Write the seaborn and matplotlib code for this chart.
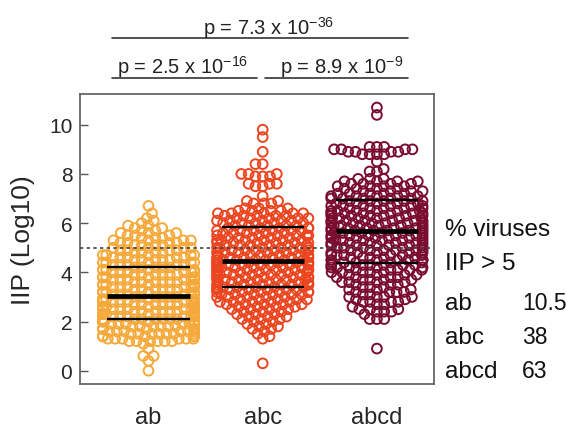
import numpy as np
import pandas as pd
import matplotlib
matplotlib.use("Agg")
import matplotlib.pyplot as plt
import seaborn as sns

# ---------------- data ----------------
groups = ["ab", "abc", "abcd"]
colors = ["#F5A93A", "#EB4520", "#7A0C30"]

# IIP values (log10) and how many viruses sit at each value
ab_levels = [0.0, 0.4, 0.6, 0.9, 1.1,
             1.2, 1.3, 1.4, 1.5, 1.6, 1.7, 1.8, 1.9,
             2.0, 2.1, 2.2, 2.3, 2.4, 2.5, 2.6, 2.7, 2.8, 2.9,
             3.0, 3.1, 3.2, 3.3, 3.4, 3.5, 3.6, 3.7, 3.8, 3.9,
             4.0, 4.1, 4.2, 4.3, 4.4, 4.5, 4.6, 4.7, 4.8, 4.9,
             5.0, 5.1, 5.2, 5.3, 5.4, 5.5, 5.6, 5.7, 5.8, 5.9,
             6.0, 6.1, 6.2, 6.4, 6.7]
ab_counts = [1, 1, 2, 1, 1,
             6, 6, 6, 7, 6, 7, 6, 7,
             7, 7, 7, 7, 7, 7, 7, 7, 7, 7,
             6, 6, 6, 6, 6, 6, 6, 6, 6, 6,
             6, 5, 5, 5, 5, 5, 5, 5, 4, 4,
             4, 4, 4, 4, 3, 3, 3, 2, 2, 2,
             1, 1, 1, 1, 1]

abc_levels = [0.3,
              1.3, 1.4, 1.5, 1.6, 1.7, 1.8, 1.9, 2.0, 2.1, 2.2, 2.3, 2.4, 2.5, 2.6, 2.7,
              2.8, 2.9, 3.0, 3.1, 3.2, 3.3, 3.4, 3.5, 3.6, 3.7, 3.8, 3.9,
              4.0, 4.1, 4.2, 4.3, 4.4, 4.5, 4.6, 4.7, 4.8, 4.9,
              5.0, 5.1, 5.2, 5.3, 5.4, 5.5, 5.6, 5.7, 5.8, 5.9,
              6.0, 6.1, 6.2, 6.3, 6.4, 6.5, 6.6,
              6.8, 6.9, 7.1, 7.5, 7.6, 7.9, 8.0, 8.4, 8.9, 9.5, 9.8]
abc_counts = [1,
              1, 1, 1, 1, 2, 2, 2, 2, 3, 3, 3, 3, 4, 4, 5,
              5, 5, 5, 6, 6, 6, 6, 7, 6, 7, 6, 7,
              6, 7, 6, 7, 6, 7, 6, 6, 6, 6,
              6, 6, 6, 6, 5, 6, 5, 6, 5, 5,
              5, 5, 5, 5, 5, 4, 3,
              3, 2, 1, 2, 3, 3, 3, 2, 1, 1, 1]

abcd_levels = [0.9,
               2.1, 2.3, 2.4, 2.5, 2.6, 2.7, 2.8, 2.9, 3.0, 3.1, 3.2, 3.3, 3.4, 3.5,
               3.6, 3.7, 3.8, 3.9,
               4.0, 4.1, 4.2, 4.3, 4.4, 4.5, 4.6, 4.7, 4.8, 4.9,
               5.0, 5.1, 5.2, 5.3, 5.4, 5.5, 5.6, 5.7, 5.8, 5.9,
               6.0, 6.1, 6.2, 6.3, 6.4, 6.5, 6.6, 6.7, 6.8, 6.9,
               7.0, 7.1, 7.2, 7.3, 7.4, 7.5, 7.6, 7.7, 7.8,
               8.1, 8.2, 8.5, 8.8, 8.9, 9.0, 9.1, 10.4, 10.7]
abcd_counts = [1,
               3, 1, 3, 3, 1, 2, 4, 2, 4, 2, 4, 3, 3, 3,
               4, 4, 4, 4,
               5, 5, 5, 6, 5, 6, 5, 6, 5, 6,
               5, 6, 6, 6, 6, 6, 6, 6, 6, 6,
               6, 6, 6, 6, 6, 6, 5, 6, 5, 5,
               5, 5, 5, 4, 4, 4, 4, 4, 3,
               2, 1, 1, 4, 4, 4, 3, 1, 1]

q1_values = [2.1, 3.4, 4.38]
median_values = [3.05, 4.45, 5.7]
q3_values = [4.2, 5.85, 6.95]
threshold = 5

pval_labels = ["p = 7.3 x 10$^{-36}$", "p = 2.5 x 10$^{-16}$", "p = 8.9 x 10$^{-9}$"]
pct_groups = ["ab", "abc", "abcd"]
pct_values = ["10.5", "38", "63"]

# ---------------- build table ----------------
values = np.concatenate([np.repeat(ab_levels, ab_counts),
                         np.repeat(abc_levels, abc_counts),
                         np.repeat(abcd_levels, abcd_counts)])
labels = (["ab"] * int(sum(ab_counts)) + ["abc"] * int(sum(abc_counts))
          + ["abcd"] * int(sum(abcd_counts)))
df = pd.DataFrame({"group": labels, "value": values})

# ---------------- style ----------------
sns.set_style("white")
plt.rcParams["font.family"] = ["Liberation Sans", "DejaVu Sans"]
plt.rcParams["mathtext.fontset"] = "custom"
plt.rcParams["mathtext.rm"] = "Liberation Sans"
plt.rcParams["mathtext.it"] = "Liberation Sans:italic"
plt.rcParams["mathtext.bf"] = "Liberation Sans:bold"

W, H = 566, 431
fig = plt.figure(figsize=(W / 100, H / 100), dpi=100)
ax = fig.add_axes([80 / W, 46 / H, 354 / W, 290 / H])

layout_size = 5.0   # marker size used for the swarm layout
marker_size = 7.0   # marker size that is drawn (points overlap like the reference)

sns.swarmplot(data=df, x="group", y="value", hue="group", order=groups,
              hue_order=groups, palette=colors, size=layout_size, legend=False,
              warn_thresh=1.0, ax=ax)

xs = np.arange(len(groups))
ax.hlines(median_values, xs - 0.36, xs + 0.36, color="black", lw=3.4, zorder=5)
ax.hlines(q1_values, xs - 0.36, xs + 0.36, color="black", lw=1.7, zorder=5)
ax.hlines(q3_values, xs - 0.36, xs + 0.36, color="black", lw=1.7, zorder=5)
ax.axhline(threshold, color="#444444", lw=1.2, ls=(0, (2, 2)), zorder=4)

ax.set_xlim(-0.6, 2.5)
ax.set_ylim(-0.54, 11.25)
ax.set_yticks([0, 2, 4, 6, 8, 10])
ax.set_xlabel("")
ax.set_ylabel("IIP (Log10)", fontsize=19, labelpad=10)
ax.tick_params(axis="y", direction="in", length=6, width=1, color="#555555",
               labelsize=15, pad=5.5, left=True)
ax.tick_params(axis="x", length=0, labelsize=17, pad=16)
for s in ax.spines.values():
    s.set_visible(True)
    s.set_color("#666666")
    s.set_linewidth(1.3)

# compute the swarm layout, then freeze it and enlarge the hollow markers
fig.canvas.draw()
for coll, c in zip(ax.collections, colors):
    if "draw" in coll.__dict__:
        del coll.draw
    coll.set_sizes([marker_size ** 2])
    coll.set_facecolor("none")
    coll.set_edgecolor(c)
    coll.set_linewidth(1.4)
    coll.set_zorder(2)

# ---------------- significance brackets ----------------
lc = "#333333"
ax.plot([-0.32, 2.27], [13.52, 13.52], color=lc, lw=1.2, clip_on=False)
ax.plot([-0.32, 0.95], [11.9, 11.9], color=lc, lw=1.2, clip_on=False)
ax.plot([1.02, 2.27], [11.9, 11.9], color=lc, lw=1.2, clip_on=False)
ax.text(1.05, 13.71, pval_labels[0], ha="center", va="baseline", fontsize=14.5,
        color="#222222")
ax.text(0.30, 12.10, pval_labels[1], ha="center", va="baseline", fontsize=14.5,
        color="#222222")
ax.text(1.69, 12.10, pval_labels[2], ha="center", va="baseline", fontsize=14.5,
        color="#222222")

# ---------------- right-hand annotation ----------------
fs = 17.5
fig.text(445 / W, 1 - 236 / H, "% viruses", fontsize=fs, va="baseline", color="#111111")
fig.text(445 / W, 1 - 270 / H, "IIP > 5", fontsize=fs, va="baseline", color="#111111")
for i, (g, v) in enumerate(zip(pct_groups, pct_values)):
    yb = 310 + i * 34
    fig.text(445 / W, 1 - yb / H, g, fontsize=fs, va="baseline", color="#111111")
    fig.text(522 / W, 1 - yb / H, v, fontsize=16.5, va="baseline", color="#111111")

fig.savefig("out.png", dpi=100)
